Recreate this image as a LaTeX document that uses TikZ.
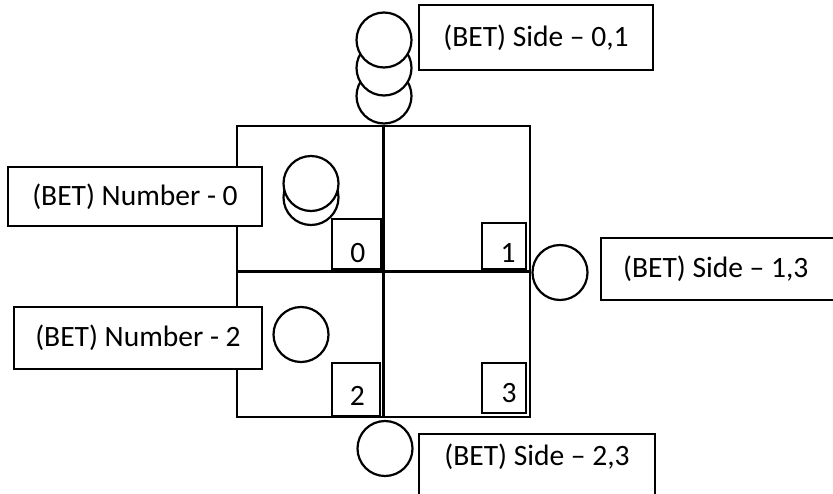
\documentclass[tikz,border=0pt]{standalone}
\usepackage{fontspec}
\setmainfont{Carlito}

\begin{document}
\begin{tikzpicture}[x=2cm,y=2cm,line width=1.25pt,
  chip/.style={circle,draw,fill=white,minimum size=1.1cm,inner sep=0pt},
  numbox/.style={draw,fill=white,inner sep=0pt,font=\fontsize{16.8}{20}\selectfont},
  betbox/.style={draw,fill=white,inner sep=0pt,font=\fontsize{16.8}{20}\selectfont}]
\useasboundingbox (0,0) rectangle (8.33,4.93);
\clip (0,0) rectangle (8.33,4.93);

\draw (2.37,0.76) rectangle (5.30,3.67);
\draw (3.835,0.76) -- (3.835,3.67);
\draw (2.37,2.215) -- (5.30,2.215);

\node [numbox,minimum width=0.98cm,text height=0.86cm,text depth=0.14cm] (cell0) at (3.565,2.49) {\hspace*{0.05cm}0};
\node [numbox,minimum width=0.88cm,text height=0.79cm,text depth=0.13cm] (cell1) at (5.04,2.47) {\hspace*{0.16cm}1};
\node [numbox,minimum width=0.96cm,text height=0.85cm,text depth=0.21cm] (cell2) at (3.56,1.035) {\hspace*{0.05cm}2};
\node [numbox,minimum width=0.88cm,text height=0.78cm,text depth=0.22cm] (cell3) at (5.04,1.05) {\hspace*{0.2cm}3};

\node [chip] (side01c) at (3.84,3.97) {};
\node [chip] (side01b) at (3.84,4.25) {};
\node [chip] (side01a) at (3.84,4.53) {};
\node [chip] (num0b) at (3.11,2.955) {};
\node [chip] (num0a) at (3.11,3.095) {};
\node [chip] (num2) at (3.01,1.585) {};
\node [chip] (side13) at (5.60,2.205) {};
\node [chip] (side23) at (3.85,0.445) {};

\node [betbox,minimum width=4.68cm,minimum height=1.3cm] (bet01) at (5.36,4.555) {(BET) Side – 0,1};
\node [betbox,minimum width=5.08cm,minimum height=1.18cm] (betn0) at (1.35,2.965) {(BET) Number - 0};
\node [betbox,minimum width=4.96cm,minimum height=1.24cm] (betn2) at (1.38,1.55) {(BET) Number - 2};
\node [betbox,anchor=west,minimum height=1.24cm,inner xsep=0.44cm] (bet13) at (6.00,2.24) {(BET) Side – 1,3\hspace*{0.5cm}};
\node [betbox,anchor=north,minimum width=4.72cm,text height=0.63cm,text depth=0.81cm] (bet23) at (5.37,0.60) {(BET) Side – 2,3};
\end{tikzpicture}
\end{document}
